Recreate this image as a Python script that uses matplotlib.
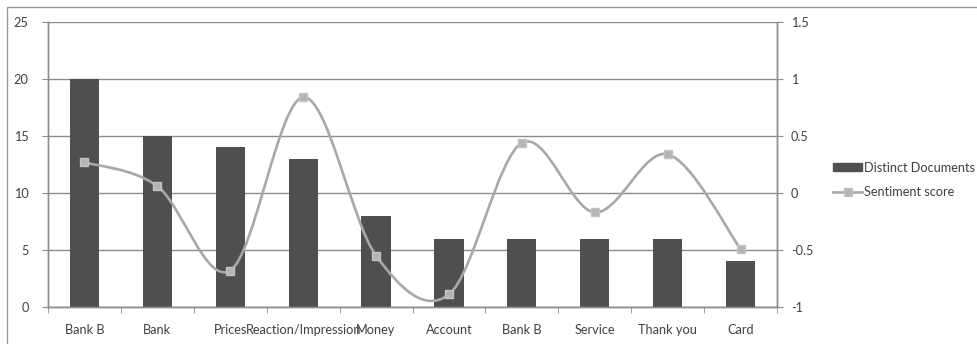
import numpy as np
import matplotlib
matplotlib.use("Agg")
import matplotlib.pyplot as plt
from matplotlib.path import Path
from matplotlib.patches import PathPatch, Rectangle
from matplotlib.lines import Line2D

categories = ["Bank B", "Bank", "Prices", "Reaction/Impression", "Money",
              "Account", "Bank B", "Service", "Thank you", "Card"]
distinct_docs = [20, 15, 14, 13, 8, 6, 6, 6, 6, 4]
sentiment = [0.27, 0.06, -0.68, 0.84, -0.55, -0.89, 0.44, -0.17, 0.34, -0.49]

plt.rcParams['font.family'] = ['Lato', 'DejaVu Sans']
plt.rcParams['font.size'] = 9.2
txt = '#404040'
axis_gray = '#8c8c8c'
bar_color = '#4f4f4f'
line_color = '#a8a8a8'

fig = plt.figure(figsize=(9.78, 3.44), dpi=100)
ax = fig.add_axes([48/978, 1 - 307/344, (777-48)/978, (307-22)/344])
ax2 = ax.twinx()

# outer chart border (only top and left fall inside the image)
fig.patches.append(Rectangle((7/978, -0.2), 1.2, 1.2 - 7/344,
                             transform=fig.transFigure, fill=False,
                             edgecolor='#9a9a9a', linewidth=1.0))

x = np.arange(len(categories))
ax.bar(x, distinct_docs, width=0.4, color=bar_color, zorder=2)
ax.set_xlim(-0.5, len(categories) - 0.5)
ax.set_ylim(0, 25)
ax.set_yticks(range(0, 26, 5))
ax.set_axisbelow(True)
ax.yaxis.grid(True, color=axis_gray, linewidth=1.0)
ax.set_xticks(x)
ax.set_xticklabels(categories, color=txt)
ax.set_xticks(np.arange(-0.5, len(categories)), minor=True)
ax.tick_params(axis='x', which='major', length=0, pad=12)
ax.tick_params(axis='x', which='minor', length=4, color=axis_gray, direction='out')
ax.tick_params(axis='y', length=4, color=axis_gray, labelcolor=txt, pad=10)

# right axis for the sentiment score
ax2.set_ylim(-1, 1.5)
ax2.set_yticks([-1, -0.5, 0, 0.5, 1, 1.5])
ax2.set_yticklabels(['-1', '-0.5', '0', '0.5', '1', '1.5'])
ax2.tick_params(axis='y', length=4, color=axis_gray, labelcolor=txt, pad=6)

for a in (ax, ax2):
    a.spines['top'].set_visible(False)
    for s in ('left', 'right', 'bottom'):
        a.spines[s].set_color(axis_gray)
        a.spines[s].set_linewidth(1.0)

# smoothed line: Catmull-Rom segments as cubic Beziers
pts = np.column_stack([x, sentiment]).astype(float)
padded = np.vstack([pts[0], pts, pts[-1]])
verts = [tuple(pts[0])]
codes = [Path.MOVETO]
for i in range(len(pts) - 1):
    p0, p1, p2, p3 = padded[i], padded[i + 1], padded[i + 2], padded[i + 3]
    c1 = p1 + (p2 - p0) / 6
    c2 = p2 - (p3 - p1) / 6
    verts += [tuple(c1), tuple(c2), tuple(p2)]
    codes += [Path.CURVE4] * 3
ax2.add_patch(PathPatch(Path(verts, codes), fill=False, edgecolor=line_color,
                        linewidth=1.9, zorder=3))
ax2.plot(x, sentiment, linestyle='none', marker='s', markersize=6,
         markerfacecolor='#b4b4b4', markeredgecolor='#c4c4c4', zorder=4)

handles = [Rectangle((0, 0), 1, 1, color=bar_color),
           Line2D([], [], color=line_color, linewidth=1.9, marker='s',
                  markersize=6, markerfacecolor='#b4b4b4', markeredgecolor='#c4c4c4')]
fig.legend(handles, ["Distinct Documents", "Sentiment score"],
           loc='center left', bbox_to_anchor=(822/978, 1 - 180/344),
           frameon=False, labelspacing=1.0, handlelength=2.2, handleheight=0.5,
           handletextpad=0.2, labelcolor=txt, fontsize=9.2)

fig.savefig("out.png", dpi=100)
